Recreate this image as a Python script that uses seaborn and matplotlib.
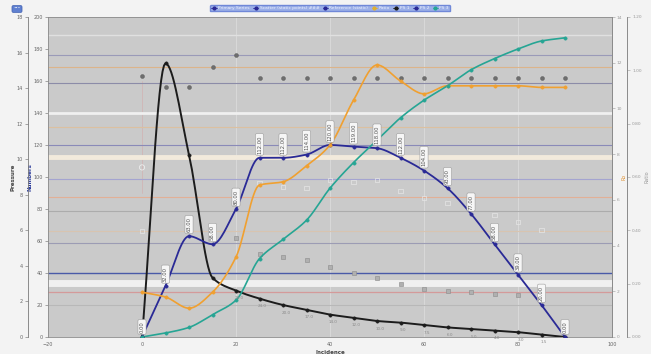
import numpy as np
import matplotlib
matplotlib.use("Agg")
import matplotlib.pyplot as plt
import matplotlib.lines as mlines
import seaborn as sns
import pandas as pd

# ---------------- data ----------------
incidence = [0, 5, 10, 15, 20, 25, 30, 35, 40, 45, 50, 55, 60, 65, 70, 75, 80, 85, 90]
black_vals = [0, 171, 114, 37, 29, 24, 20, 17, 14, 12, 10, 9, 7.5, 6, 5, 4, 3, 1.5, 0]
blue_vals = [0, 32, 63, 58, 80, 112, 112, 114, 120, 119, 118, 112, 104, 93, 77, 58, 39, 20, 0]
orange_vals = [28, 25, 18, 28, 50, 95, 97, 107, 120, 148, 170, 160, 152, 157, 157, 157, 157, 156, 156]
teal_vals = [0, 2.5, 6, 14, 23, 49, 61, 73, 93, 109, 123, 137, 148, 157, 167, 174, 180, 185, 187]

gray_x = [0, 5, 10, 15, 20, 25, 30, 35, 40, 45, 50, 55, 60, 65, 70, 75, 80, 85, 90]
gray_vals = [163, 156, 156, 169, 176, 162, 162, 162, 162, 162, 162, 162, 162, 162, 162, 162, 162, 162, 162]

open_sq_x = [0, 20, 25, 30, 35, 40, 45, 50, 55, 60, 65, 70, 75, 80, 85]
open_sq_vals = [66, 87, 96, 94, 93, 98, 97, 98, 91, 87, 84, 82, 76, 72, 67]
open_circ_x = [0]
open_circ_vals = [106]
low_sq_x = [20, 25, 30, 35, 40, 45, 50, 55, 60, 65, 70, 75, 80, 85]
low_sq_vals = [62, 52, 50, 48, 44, 40, 37, 33, 30, 29, 28, 27, 26, 26]

ref_levels = [189, 176, 169, 159, 140, 131, 120, 112.5, 99, 87.5, 79, 66, 59, 40, 34, 28, 20]
ref_colors = ['#e0e0e0', '#9a9ab8', '#dcb48a', '#8c8ca8', '#f0f0f0', '#dcc0a0', '#8a8ab8',
              '#f2eadc', '#a4a4d0', '#e2b096', '#acacac', '#d8c4b0', '#9c9cb4', '#4a5aa8',
              '#f0f0f0', '#d49a9a', '#b8b8b8']
ref_widths = [1.0, 0.8, 0.8, 0.8, 2.0, 0.8, 0.8, 3.5, 0.8, 0.8, 0.8, 0.8, 0.8, 1.0, 5.0, 0.9, 0.8]

x_ticks = [-20, 0, 20, 40, 60, 80, 100]
num_ticks = list(range(0, 201, 20))
pres_ticks = list(range(0, 19, 2))
r1_ticks = list(range(0, 15, 2))
r2_ticks = [0.0, 0.2, 0.4, 0.6, 0.8, 1.0, 1.2]

legend_names = ["Primary Series", "Scatter (static points) ###", "Reference (static)",
                "Ratio", "PS 1", "PS 2", "PS 3"]


def smooth(x, y, n=16):
    """Monotone cubic (Fritsch-Carlson) rendering of a polyline."""
    x = np.asarray(x, float)
    y = np.asarray(y, float)
    h = np.diff(x)
    d = np.diff(y) / h
    m = np.zeros_like(y)
    for k in range(1, len(y) - 1):
        if d[k - 1] * d[k] > 0:
            w1 = 2 * h[k] + h[k - 1]
            w2 = h[k] + 2 * h[k - 1]
            m[k] = (w1 + w2) / (w1 / d[k - 1] + w2 / d[k])
    m[0] = d[0]
    m[-1] = d[-1]
    xs, ys = [], []
    for i in range(len(x) - 1):
        t = np.linspace(0, 1, n, endpoint=False)
        h00 = 2 * t**3 - 3 * t**2 + 1
        h10 = t**3 - 2 * t**2 + t
        h01 = -2 * t**3 + 3 * t**2
        h11 = t**3 - t**2
        xs.append(x[i] + t * h[i])
        ys.append(h00 * y[i] + h10 * h[i] * m[i] + h01 * y[i + 1] + h11 * h[i] * m[i + 1])
    xs.append([x[-1]])
    ys.append([y[-1]])
    return np.concatenate(xs), np.concatenate(ys)


sns.set_style("white")
plt.rcParams['font.family'] = ['DejaVu Sans']

fig = plt.figure(figsize=(6.51, 3.54), dpi=100, facecolor='#f3f3f3')
ax = fig.add_axes([48 / 651, 17 / 354, 564 / 651, 320 / 354])
ax.set_facecolor('#cacaca')
ax.set_xlim(-20, 100)
ax.set_ylim(0, 200)

# vertical faint grid
for xv in [20, 40, 60, 80]:
    ax.axvline(xv, color='#d8d8d8', lw=0.8, zorder=0.5)
ax.axvline(0, color='#d8a0a0', lw=0.5, ymin=0.45, ymax=0.8, zorder=0.6, alpha=0.6)

# horizontal reference bands
for lv, c, w in zip(ref_levels, ref_colors, ref_widths):
    ax.axhline(lv, color=c, lw=w, zorder=0.7)

# lines
series = [(black_vals, '#1c1c1c', 1.4), (blue_vals, '#2a2a96', 1.3),
          (orange_vals, '#f0a030', 1.2), (teal_vals, '#26a594', 1.2)]
for vals, col, lw in series:
    sx, sy = smooth(incidence, vals)
    d = pd.DataFrame({'x': sx, 'y': sy})
    sns.lineplot(data=d, x='x', y='y', ax=ax, color=col, lw=lw, sort=False,
                 estimator=None, zorder=3)
    sns.scatterplot(x=incidence, y=vals, ax=ax, color=col, s=6, edgecolor=col,
                    linewidth=0.3, zorder=4)

# scatter series
sns.scatterplot(x=gray_x, y=gray_vals, ax=ax, color='#6e6e6e', s=8, edgecolor='#555555',
                linewidth=0.3, zorder=2)
sns.scatterplot(x=open_sq_x, y=open_sq_vals, ax=ax, marker='s', s=9, facecolor='none',
                edgecolor='#e6e6e6', linewidth=0.5, zorder=2)
sns.scatterplot(x=open_circ_x, y=open_circ_vals, ax=ax, marker='o', s=14, facecolor='none',
                edgecolor='#eeeeee', linewidth=0.6, zorder=2)
sns.scatterplot(x=low_sq_x, y=low_sq_vals, ax=ax, marker='s', s=6, facecolor='#b0b0b0',
                edgecolor='#8a8a8a', linewidth=0.4, zorder=2)

# value labels
for xv, yv in zip(incidence, blue_vals):
    ax.annotate(f"{yv:.2f}", (xv, yv), xytext=(0, 3), textcoords='offset points',
                rotation=90, ha='center', va='bottom', fontsize=3.8, color='#555555',
                bbox=dict(boxstyle='round,pad=0.3', fc='#f6f6f6', ec='#9a9a9a', lw=0.4),
                zorder=6)
for xv, yv in zip(incidence[4:-1], black_vals[4:-1]):
    ax.annotate(f"{yv:.1f}", (xv, yv), xytext=(2, -4), textcoords='offset points',
                ha='center', va='top', fontsize=3, color='#8a8a8a', zorder=5)

# axes styling
ax.set_xticks(x_ticks)
ax.set_yticks(num_ticks)
ax.tick_params(axis='both', labelsize=3.5, colors='#666666', length=2, width=0.4, pad=1.5)
for s in ax.spines.values():
    s.set_color('#8a8a8a')
    s.set_linewidth(0.6)
ax.set_xlabel('Incidence', fontsize=4, fontweight='bold', color='#444444', labelpad=2)
ax.set_ylabel('Numbers', fontsize=4, color='#2a3a9a', fontweight='bold')
ax.yaxis.set_label_coords(-0.027, 0.5)

# outer left axis: Pressure
ax2 = ax.twinx()
ax2.set_ylim(0, 18)
ax2.set_yticks(pres_ticks)
ax2.spines['left'].set_position(('axes', -0.036))
ax2.spines['left'].set_visible(True)
ax2.spines['right'].set_visible(False)
ax2.spines['top'].set_visible(False)
ax2.spines['bottom'].set_visible(False)
ax2.spines['left'].set_color('#7a7a7a')
ax2.spines['left'].set_linewidth(0.6)
ax2.yaxis.set_ticks_position('left')
ax2.yaxis.set_label_position('left')
ax2.tick_params(axis='y', labelsize=3.5, colors='#666666', length=2, width=0.4, pad=1.5)
ax2.set_ylabel('Pressure', fontsize=4, color='#444444', fontweight='bold')
ax2.yaxis.set_label_coords(-0.058, 0.5)

# inner right axis
ax3 = ax.twinx()
ax3.set_ylim(0, 14)
ax3.set_yticks(r1_ticks)
for k in ['left', 'top', 'bottom']:
    ax3.spines[k].set_visible(False)
ax3.spines['right'].set_color('#8a8a8a')
ax3.spines['right'].set_linewidth(0.6)
ax3.tick_params(axis='y', labelsize=3.2, colors='#9a9a9a', length=2, width=0.4, pad=1.5)
ax3.set_ylabel('Ro', fontsize=3.5, color='#e09030')
ax3.yaxis.set_label_coords(1.016, 0.5)

# outer right axis
ax4 = ax.twinx()
ax4.set_ylim(0, 1.2)
ax4.set_yticks(r2_ticks)
ax4.set_yticklabels([f"{v:.2f}" for v in r2_ticks])
for k in ['left', 'top', 'bottom']:
    ax4.spines[k].set_visible(False)
ax4.spines['right'].set_position(('axes', 1.027))
ax4.spines['right'].set_color('#7a7a7a')
ax4.spines['right'].set_linewidth(0.6)
ax4.tick_params(axis='y', labelsize=3.2, colors='#9a9a9a', length=2, width=0.4, pad=1.5)
ax4.set_ylabel('Ratio', fontsize=3.5, color='#999999')
ax4.yaxis.set_label_coords(1.058, 0.5)

# legend
cols = ['#2a2a96', '#2a2a96', '#2a2a96', '#e0b030', '#1c1c1c', '#2a2a96', '#26a594']
handles = [mlines.Line2D([], [], color=c, marker='o', ms=2, lw=0.6) for c in cols]
leg = fig.legend(handles, legend_names, loc='center', ncol=7,
                 bbox_to_anchor=(330 / 651, 1 - 8 / 354), fontsize=3.2, frameon=True,
                 facecolor='#9cb0e8', edgecolor='#7088d8', framealpha=1,
                 handlelength=1.2, columnspacing=0.8, handletextpad=0.3,
                 borderpad=0.3, fancybox=True)
for t in leg.get_texts():
    t.set_color('#eef2ff')

fig.text(17 / 651, 1 - 9 / 354, '•••', fontsize=3, color='#ffffff', ha='center', va='center',
         bbox=dict(boxstyle='round,pad=0.35', fc='#5f80d0', ec='#4060b0', lw=0.5))

fig.savefig('out.png', dpi=100, facecolor=fig.get_facecolor())
